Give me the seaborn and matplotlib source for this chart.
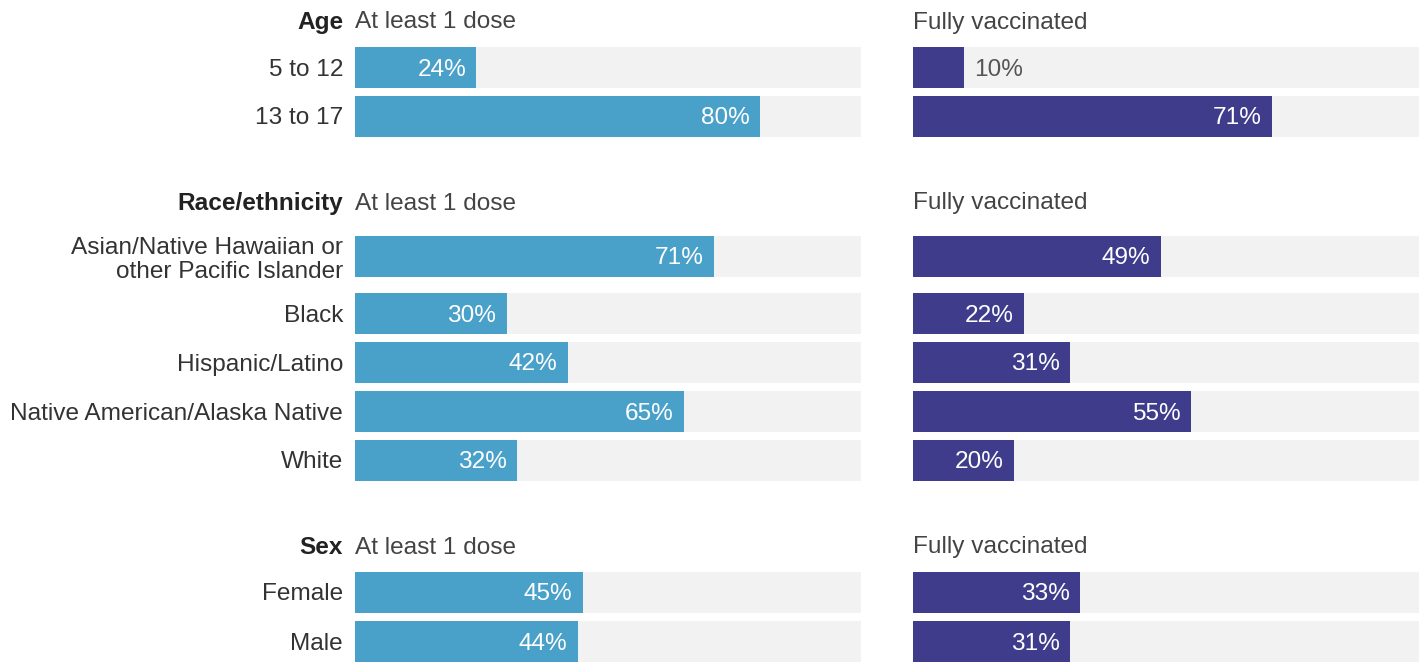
import matplotlib
matplotlib.use("Agg")
import matplotlib.pyplot as plt
import numpy as np
import pandas as pd
import seaborn as sns

# ---------------- data ----------------
group_names = ["Age", "Race/ethnicity", "Sex"]
panel_titles = ["At least 1 dose", "Fully vaccinated"]

age_labels = ["5 to 12", "13 to 17"]
age_one_dose = [24, 80]
age_full = [10, 71]

race_labels = ["Asian/Native Hawaiian or\nother Pacific Islander", "Black",
               "Hispanic/Latino", "Native American/Alaska Native", "White"]
race_one_dose = [71, 30, 42, 65, 32]
race_full = [49, 22, 31, 55, 20]

sex_labels = ["Female", "Male"]
sex_one_dose = [45, 44]
sex_full = [33, 31]

# ---------------- style ----------------
sns.set_theme(style="white")
plt.rcParams["font.family"] = ["Liberation Sans", "DejaVu Sans"]
FS = 17.6
TEXT = "#333333"
BLUE = "#49a0c9"
PURPLE = "#3f3d8b"
TRACK = "#f2f2f2"

# ---------------- layout (pixel rows) ----------------
W, H = 1424, 662
first_header = 20
header_to_row = 47
pitch = 49
group_gap = 85
extra_two_line = 8
bar_px = 41

groups = [(group_names[0], age_labels, age_one_dose, age_full),
          (group_names[1], race_labels, race_one_dose, race_full),
          (group_names[2], sex_labels, sex_one_dose, sex_full)]

rows = []
headers = []
y = first_header
for gname, labels, one, full in groups:
    headers.append((gname, y))
    prev = None
    for i, (lab, a, b) in enumerate(zip(labels, one, full)):
        two = "\n" in lab
        if prev is None:
            y = y + header_to_row
        else:
            y = y + pitch + (extra_two_line if prev else 0)
        if two:
            y += extra_two_line
        rows.append(dict(group=gname, label=lab, pos=float(y), one=a, full=b, track=100))
        prev = two
    y = y + group_gap
df = pd.DataFrame(rows)

fig = plt.figure(figsize=(W / 100, H / 100), dpi=100)
left_px, right_px, panel_w = 355, 913, 506
axL = fig.add_axes([left_px / W, 0, panel_w / W, 1])
axR = fig.add_axes([right_px / W, 0, panel_w / W, 1])

width_rel = bar_px / pitch
for ax, col, color, title in [(axL, "one", BLUE, panel_titles[0]),
                              (axR, "full", PURPLE, panel_titles[1])]:
    sns.barplot(data=df, x="track", y="pos", orient="y", native_scale=True,
                color=TRACK, width=width_rel, errorbar=None, ax=ax,
                saturation=1, linewidth=0)
    sns.barplot(data=df, x=col, y="pos", orient="y", native_scale=True,
                color=color, width=width_rel, errorbar=None, ax=ax,
                saturation=1, linewidth=0)
    ax.set_xlim(0, 100)
    ax.set_ylim(H, 0)
    for s in ax.spines.values():
        s.set_visible(False)
    ax.set_xticks([])
    ax.set_xlabel("")
    ax.set_ylabel("")
    # value labels
    for _, r in df.iterrows():
        v = r[col]
        if v >= 15:
            ax.annotate(f"{v}%", (v, r["pos"]), xytext=(-7.5, 0),
                        textcoords="offset points", ha="right", va="center_baseline",
                        color="white", fontsize=FS, fontweight="medium")
        else:
            ax.annotate(f"{v}%", (v, r["pos"]), xytext=(7.5, 0),
                        textcoords="offset points", ha="left", va="center_baseline",
                        color="#555555", fontsize=FS)
    # panel titles per group
    for gname, hy in headers:
        ax.text(0, hy, title, ha="left", va="center_baseline", fontsize=FS, color="#444444")

axR.set_yticks([])

# y tick labels (rows + bold group headers) on left panel
tick_pos = list(df["pos"]) + [hy for _, hy in headers]
tick_lab = list(df["label"]) + [g for g, _ in headers]
axL.set_yticks(tick_pos)
axL.set_yticklabels(tick_lab)
axL.tick_params(axis="y", length=0, pad=8.6, labelsize=FS, labelcolor=TEXT)
hdr_names = set(g for g, _ in headers)
for t in axL.get_yticklabels():
    t.set_multialignment("right")
    t.set_linespacing(1.15)
    t.set_verticalalignment("center_baseline")
    if t.get_text() in hdr_names:
        t.set_fontweight("bold")
        t.set_color("#222222")
axL.set_ylim(H, 0)
axR.set_ylim(H, 0)

fig.savefig("out.png", dpi=100, facecolor="white")
